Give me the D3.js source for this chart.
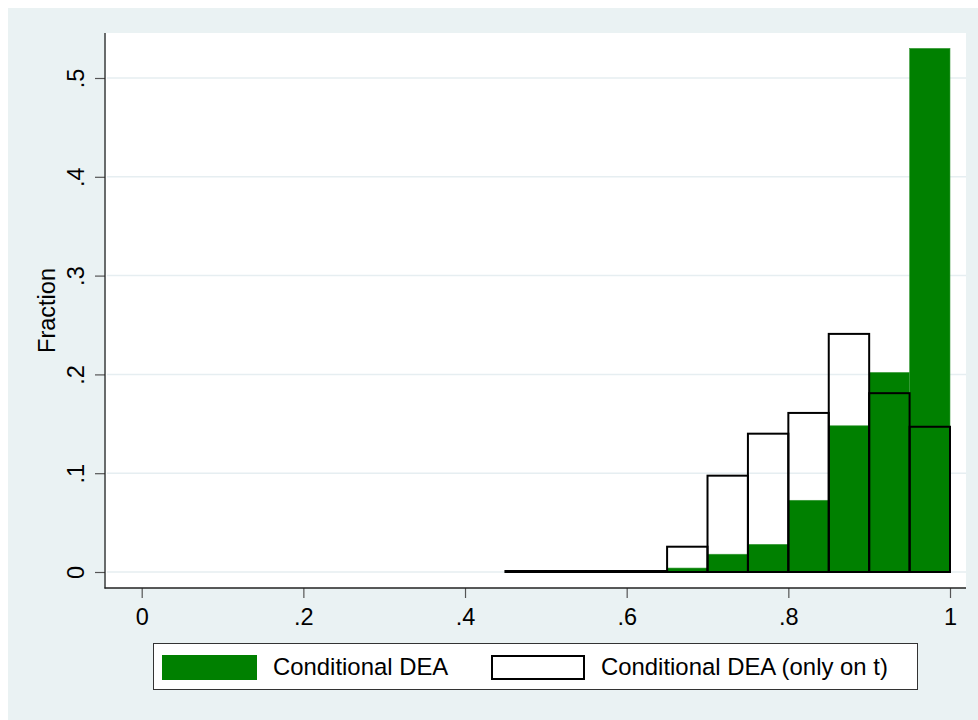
<!DOCTYPE html>
<html>
<head>
<meta charset="utf-8">
<script src="https://cdn.jsdelivr.net/npm/d3@7"></script>
<style>
  html, body { margin: 0; padding: 0; background: #ffffff; }
  text { font-family: "Liberation Sans", Arial, sans-serif; }
</style>
</head>
<body>
<svg id="chart" width="978" height="720"></svg>
<script>
// ---- data ----
const binStarts = [0.45, 0.50, 0.55, 0.60, 0.65, 0.70, 0.75, 0.80, 0.85, 0.90, 0.95];
const binWidth = 0.05;
const conditionalDEA = [0, 0, 0, 0, 0.004, 0.018, 0.028, 0.0726, 0.148, 0.202, 0.530];
const conditionalDEAOnlyT = [0.001, 0.001, 0.001, 0.001, 0.0256, 0.0975, 0.140, 0.161, 0.241, 0.181, 0.147];
const xTicks = [0, 0.2, 0.4, 0.6, 0.8, 1];
const xTickLabels = ["0", ".2", ".4", ".6", ".8", "1"];
const yTicks = [0, 0.1, 0.2, 0.3, 0.4, 0.5];
const yTickLabels = ["0", ".1", ".2", ".3", ".4", ".5"];
const seriesNames = ["Conditional DEA", "Conditional DEA (only on t)"];
const yTitle = "Fraction";

// ---- layout ----
const svg = d3.select("#chart");
const plot = { left: 106, right: 966, top: 33, bottom: 588 };
const green = "#008000";
const bgColor = "#EAF2F3";
const fontSize = 23.5;
const legendFontSize = 23.9;

// outer background
svg.append("rect").attr("x", 8).attr("y", 8).attr("width", 970).attr("height", 712).attr("fill", bgColor);
// plot region
svg.append("rect").attr("x", plot.left).attr("y", plot.top)
  .attr("width", plot.right - plot.left).attr("height", plot.bottom - plot.top).attr("fill", "#ffffff");

const x = d3.scaleLinear().domain([0, 1]).range([141.7, 950]);
const y = d3.scaleLinear().domain([0, 0.5]).range([572, 78]);

// grid lines
svg.append("g").selectAll("line").data(yTicks).join("line")
  .attr("x1", plot.left + 1).attr("x2", plot.right)
  .attr("y1", d => y(d)).attr("y2", d => y(d))
  .attr("stroke", "#E6EEF1").attr("stroke-width", 1.5);

// green bars
svg.append("g").selectAll("rect").data(binStarts).join("rect")
  .attr("x", d => x(d))
  .attr("width", d => x(d + binWidth) - x(d))
  .attr("y", (d, i) => y(conditionalDEA[i]))
  .attr("height", (d, i) => y(0) - y(conditionalDEA[i]))
  .attr("fill", green)
  .attr("stroke", "#3a9a3a").attr("stroke-width", 0.6);

// outline bars
svg.append("g").selectAll("rect").data(binStarts).join("rect")
  .attr("x", d => x(d))
  .attr("width", d => x(d + binWidth) - x(d))
  .attr("y", (d, i) => y(conditionalDEAOnlyT[i]))
  .attr("height", (d, i) => y(0) - y(conditionalDEAOnlyT[i]))
  .attr("fill", "none")
  .attr("stroke", "#000").attr("stroke-width", 2);

// y axis
const yAxis = d3.axisLeft(y).tickValues(yTicks)
  .tickFormat((d, i) => yTickLabels[i]).tickSize(10).tickSizeOuter(0);
const gy = svg.append("g").attr("transform", `translate(${plot.left - 1},0)`).call(yAxis);
gy.select(".domain").remove();
gy.selectAll(".tick line").attr("stroke", "#555").attr("stroke-width", 1.2);
gy.selectAll(".tick text")
  .attr("x", null).attr("dy", null)
  .attr("text-anchor", "middle")
  .attr("transform", "translate(-21,0) rotate(-90)")
  .attr("font-size", fontSize).attr("fill", "#000")
  .style("font-family", "'Liberation Sans', Arial, sans-serif");

// x axis
const xAxis = d3.axisBottom(x).tickValues(xTicks)
  .tickFormat((d, i) => xTickLabels[i]).tickSize(10).tickSizeOuter(0);
const gx = svg.append("g").attr("transform", `translate(0,${plot.bottom})`).call(xAxis);
gx.select(".domain").remove();
gx.selectAll(".tick line").attr("stroke", "#555").attr("stroke-width", 1.2);
gx.selectAll(".tick text")
  .attr("dy", null).attr("y", 37)
  .attr("font-size", fontSize).attr("fill", "#000")
  .style("font-family", "'Liberation Sans', Arial, sans-serif");

// axis lines
svg.append("line").attr("x1", plot.left - 1).attr("x2", plot.left - 1)
  .attr("y1", plot.top).attr("y2", plot.bottom + 0.5)
  .attr("stroke", "#222").attr("stroke-width", 1.3);
svg.append("line").attr("x1", plot.left - 1.5).attr("x2", plot.right)
  .attr("y1", plot.bottom).attr("y2", plot.bottom)
  .attr("stroke", "#222").attr("stroke-width", 1.3);

// y title
svg.append("text")
  .attr("transform", `translate(55,${(plot.top + plot.bottom) / 2}) rotate(-90)`)
  .attr("text-anchor", "middle").attr("font-size", fontSize).attr("fill", "#000")
  .text(yTitle);

// legend
const lg = svg.append("g");
lg.append("rect").attr("x", 153.5).attr("y", 643.5).attr("width", 764).attr("height", 46)
  .attr("fill", "#fff").attr("stroke", "#333").attr("stroke-width", 1);
lg.append("rect").attr("x", 162).attr("y", 655).attr("width", 95).attr("height", 25)
  .attr("fill", green);
lg.append("text").attr("x", 273).attr("y", 674.5).attr("font-size", legendFontSize).attr("fill", "#000")
  .text(seriesNames[0]);
lg.append("rect").attr("x", 492).attr("y", 656).attr("width", 92).attr("height", 23)
  .attr("fill", "#fff").attr("stroke", "#000").attr("stroke-width", 2);
lg.append("text").attr("x", 601).attr("y", 674.5).attr("font-size", legendFontSize).attr("fill", "#000")
  .text(seriesNames[1]);
</script>
</body>
</html>
